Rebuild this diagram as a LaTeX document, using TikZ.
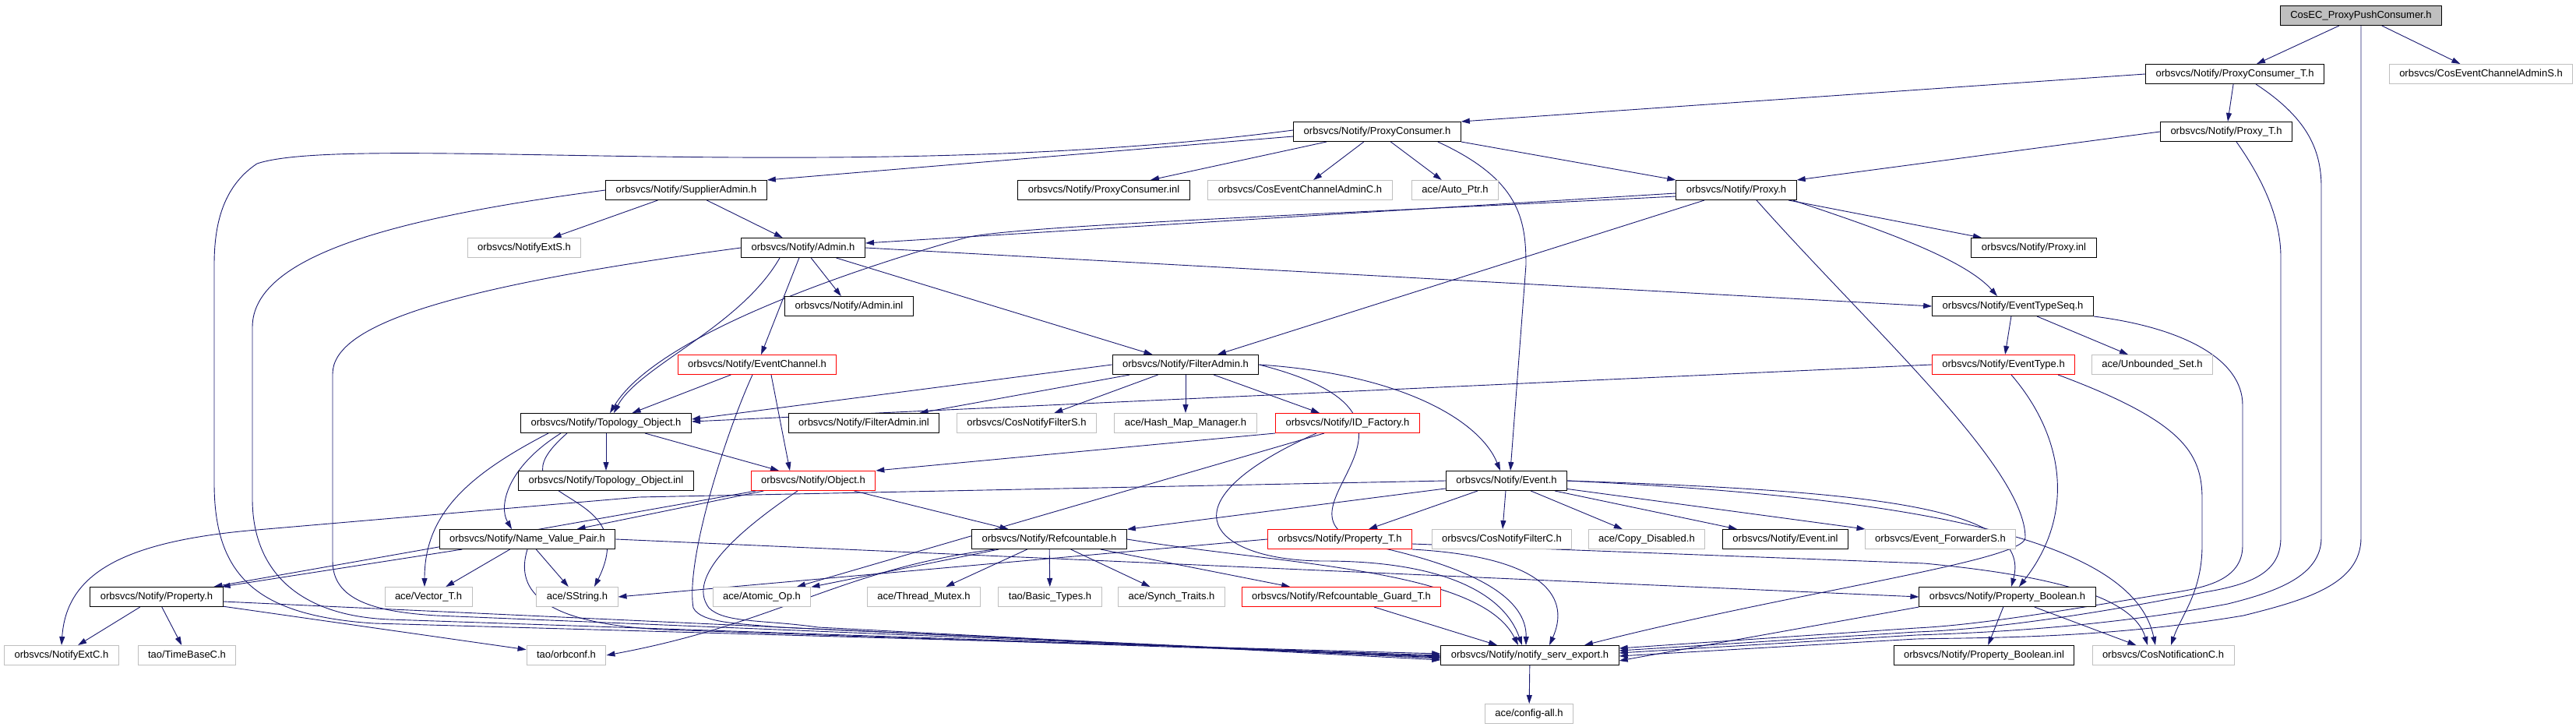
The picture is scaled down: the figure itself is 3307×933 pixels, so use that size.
\documentclass[tikz,border=0pt]{standalone}
\usepackage{fontspec}
\newfontfamily\graphfont{Liberation Sans}
\usetikzlibrary{arrows.meta}
\pgfdeclarelayer{background}
\pgfsetlayers{background,main}
\definecolor{edgeblue}{HTML}{191970}
\definecolor{boxgray}{HTML}{BFBFBF}
\tikzset{
 incfile/.style={draw=black, line width=1pt, fill=white, inner xsep=13pt, inner ysep=0pt,
   minimum height=25pt, text height=9.5pt, text depth=3pt, font=\graphfont\fontsize{13}{15}\selectfont},
 hdr/.style={incfile, fill=boxgray},
 sysfile/.style={incfile, draw=boxgray},
 cutfile/.style={incfile, draw=red},
 inc/.style={draw=edgeblue, line width=0.9pt, -{Triangle[length=11pt,width=7pt]}}
}

\begin{document}
\begin{tikzpicture} [x=1pt, y=-1pt]
 \useasboundingbox (0,0) rectangle (3307,933);
 % files, row by row
 \node[hdr] (pp) at (3031,20) {CosEC\_ProxyPushConsumer.h};
 \node[incfile] (pct) at (2869,95) {orbsvcs/Notify/ProxyConsumer\_T.h};
 \node[sysfile] (ceas) at (3185,95) {orbsvcs/CosEventChannelAdminS.h};
 \node[incfile] (pc) at (1768,169) {orbsvcs/Notify/ProxyConsumer.h};
 \node[incfile] (pt) at (2858,169) {orbsvcs/Notify/Proxy\_T.h};
 \node[incfile] (sa) at (881,244) {orbsvcs/Notify/SupplierAdmin.h};
 \node[incfile] (pci) at (1417,244) {orbsvcs/Notify/ProxyConsumer.inl};
 \node[sysfile] (ceac) at (1669,244) {orbsvcs/CosEventChannelAdminC.h};
 \node[sysfile] (ap) at (1868,244) {ace/Auto\_Ptr.h};
 \node[incfile] (px) at (2229,244) {orbsvcs/Notify/Proxy.h};
 \node[sysfile] (nes) at (673,318) {orbsvcs/NotifyExtS.h};
 \node[incfile] (adm) at (1031,318) {orbsvcs/Notify/Admin.h};
 \node[incfile] (pxi) at (2611,318) {orbsvcs/Notify/Proxy.inl};
 \node[incfile] (adi) at (1090,393) {orbsvcs/Notify/Admin.inl};
 \node[incfile] (ets) at (2584,393) {orbsvcs/Notify/EventTypeSeq.h};
 \node[cutfile] (ech) at (972,468) {orbsvcs/Notify/EventChannel.h};
 \node[incfile] (fa) at (1522,468) {orbsvcs/Notify/FilterAdmin.h};
 \node[cutfile] (et) at (2572,468) {orbsvcs/Notify/EventType.h};
 \node[sysfile] (ubs) at (2763,468) {ace/Unbounded\_Set.h};
 \node[incfile] (topo) at (778,543) {orbsvcs/Notify/Topology\_Object.h};
 \node[incfile] (fai) at (1109,543) {orbsvcs/Notify/FilterAdmin.inl};
 \node[sysfile] (cnfs) at (1318,543) {orbsvcs/CosNotifyFilterS.h};
 \node[sysfile] (hmm) at (1522,543) {ace/Hash\_Map\_Manager.h};
 \node[cutfile] (idf) at (1730,543) {orbsvcs/Notify/ID\_Factory.h};
 \node[incfile] (toi) at (778,617) {orbsvcs/Notify/Topology\_Object.inl};
 \node[cutfile] (obj) at (1044,617) {orbsvcs/Notify/Object.h};
 \node[incfile] (ev) at (1934,617) {orbsvcs/Notify/Event.h};
 \node[incfile] (nvp) at (677,692) {orbsvcs/Notify/Name\_Value\_Pair.h};
 \node[incfile] (rc) at (1347,692) {orbsvcs/Notify/Refcountable.h};
 \node[cutfile] (propt) at (1720,692) {orbsvcs/Notify/Property\_T.h};
 \node[sysfile] (cnfc) at (1928,692) {orbsvcs/CosNotifyFilterC.h};
 \node[sysfile] (cd) at (2114,692) {ace/Copy\_Disabled.h};
 \node[incfile] (evi) at (2292,692) {orbsvcs/Notify/Event.inl};
 \node[sysfile] (efs) at (2491,692) {orbsvcs/Event\_ForwarderS.h};
 \node[incfile] (prop) at (201,766) {orbsvcs/Notify/Property.h};
 \node[sysfile] (vec) at (550,766) {ace/Vector\_T.h};
 \node[sysfile] (ss) at (741,766) {ace/SString.h};
 \node[sysfile] (ao) at (978,766) {ace/Atomic\_Op.h};
 \node[sysfile] (tm) at (1186,766) {ace/Thread\_Mutex.h};
 \node[sysfile] (bt) at (1348,766) {tao/Basic\_Types.h};
 \node[sysfile] (st) at (1504,766) {ace/Synch\_Traits.h};
 \node[cutfile] (rg) at (1722,766) {orbsvcs/Notify/Refcountable\_Guard\_T.h};
 \node[incfile] (pbool) at (2577,766) {orbsvcs/Notify/Property\_Boolean.h};
 \node[sysfile] (nec) at (79,841) {orbsvcs/NotifyExtC.h};
 \node[sysfile] (tbc) at (240,841) {tao/TimeBaseC.h};
 \node[sysfile] (orbc) at (727,841) {tao/orbconf.h};
 \node[incfile] (nse) at (1964,841) {orbsvcs/Notify/notify\_serv\_export.h};
 \node[incfile] (pbi) at (2547,841) {orbsvcs/Notify/Property\_Boolean.inl};
 \node[sysfile] (cnc) at (2777,841) {orbsvcs/CosNotificationC.h};
 \node[sysfile] (cfg) at (1963,916) {ace/config-all.h};
 % includes
 \begin{pgfonlayer}{background}
 \draw[inc] (pp) -- (pct);
 \draw[inc] (pp) -- (ceas);
 \draw[inc] (pp.south) -- (3031,690) .. controls (3031,750) and (2960,770) .. (2880,790) .. controls (2700,820) and (2550,818) .. (2460,820) -- ([yshift=-1pt]nse.east);
 \draw[inc] (pct.west) -- (pc.north east);
 \draw[inc] (pct) -- (pt);
 \draw[inc] ([xshift=27pt]pct.south) .. controls (2960,150) and (2980,190) .. (2980,240) -- (2980,690) .. controls (2980,740) and (2920,760) .. (2860,775) .. controls (2700,805) and (2550,812) .. (2460,815) -- ([yshift=3pt]nse.east);
 \draw[inc] (pt.west) -- (px.north east);
 \draw[inc] ([xshift=13pt]pt.south) .. controls (2905,230) and (2928,280) .. (2928,330) -- (2928,690) .. controls (2928,735) and (2890,750) .. (2830,760) .. controls (2680,790) and (2550,808) .. (2460,811) -- ([yshift=6pt]nse.east);
 \draw[inc] ([yshift=-6pt]pc.west) -- (sa.north east);
 \draw[inc] ([yshift=2pt]pc.west) .. controls (1100,240) and (450,170) .. (330,210) .. controls (285,240) and (275,290) .. (275,340) -- (275,620) .. controls (275,740) and (330,790) .. (480,800) -- ([yshift=2pt]nse.west);
 \draw[inc] ([xshift=-65pt]pc.south) -- ([xshift=60pt]pci.north);
 \draw[inc] (pc) -- (ceac);
 \draw[inc] (pc) -- (ap);
 \draw[inc] (pc.south east) -- (px.north west);
 \draw[inc] ([xshift=-30pt]pc.south east) .. controls (1950,230) and (1959,280) .. (1959,340) -- ([xshift=5pt]ev.north);
 \draw[inc] (sa) -- (nes);
 \draw[inc] (sa) -- (adm);
 \draw[inc] (sa.west) .. controls (500,280) and (324,330) .. (324,420) -- (324,640) .. controls (324,730) and (380,790) .. (500,795) -- (nse.west);
 \draw[inc] ([yshift=-4pt]px.west) -- ([yshift=6pt]adm.east);
 \draw[inc] ([yshift=-8pt]px.west) .. controls (1700,275) and (1300,290) .. (1240,305) .. controls (1150,330) and (850,420) .. ([xshift=5pt]topo.north);
 \draw[inc] (px) -- (fa);
 \draw[inc] (px) -- (pxi);
 \draw[inc] ([xshift=-5pt]px.south east) .. controls (2400,290) and (2520,330) .. ([xshift=-20pt]ets.north);
 \draw[inc] ([xshift=26pt]px.south) .. controls (2400,420) and (2600,600) .. (2600,690) .. controls (2600,720) and (2300,760) .. ([xshift=70pt]nse.north);
 \draw[inc] (adm) -- (adi);
 \draw[inc] (adm) -- (ech);
 \draw[inc] (adm) -- (fa);
 \draw[inc] (adm.east) -- (ets.west);
 \draw[inc] ([xshift=-30pt]adm.south) .. controls (950,420) and (820,470) .. ([xshift=10pt]topo.north);
 \draw[inc] (adm.west) .. controls (560,370) and (427,420) .. (427,480) -- (427,720) .. controls (427,770) and (480,785) .. (560,790) -- ([yshift=-2pt]nse.west);
 \draw[inc] (ets) -- (et);
 \draw[inc] (ets) -- (ubs);
 \draw[inc] (ets.south east) .. controls (2800,420) and (2879,460) .. (2879,520) -- (2879,700) .. controls (2879,745) and (2830,755) .. (2780,762) .. controls (2640,785) and (2540,802) .. (2460,806) -- ([yshift=9pt]nse.east);
 \draw[inc] (ech) -- (topo);
 \draw[inc] ([xshift=18pt]ech.south) -- ([xshift=-30pt]obj.north);
 \draw[inc] ([xshift=-6pt]ech.south) .. controls (930,560) and (880,720) .. (890,780) .. controls (900,800) and (950,800) .. (1000,805) -- ([yshift=-4pt]nse.west);
 \draw[inc] (fa.west) -- ([yshift=5pt]topo.east);
 \draw[inc] (fa) -- (fai);
 \draw[inc] (fa) -- (cnfs);
 \draw[inc] (fa) -- (hmm);
 \draw[inc] (fa) -- (idf);
 \draw[inc] (fa.east) .. controls (1800,480) and (1900,540) .. ([xshift=-8pt]ev.north);
 \draw[inc] (fa.east) .. controls (1900,540) and (1600,660) .. (1760,700) .. controls (1900,730) and (1960,770) .. ([xshift=-5pt]nse.north);
 \draw[inc] (et.west) -- ([yshift=2pt]topo.east);
 \draw[inc] ([xshift=70pt]et.south) .. controls (2800,540) and (2827,580) .. (2827,640) -- (2827,700) .. controls (2827,760) and (2800,790) .. ([xshift=10pt]cnc.north);
 \draw[inc] ([xshift=10pt]et.south) .. controls (2650,560) and (2665,660) .. ([xshift=15pt]pbool.north);
 \draw[inc] (topo) -- (toi);
 \draw[inc] ([xshift=50pt]topo.south) -- ([xshift=-44pt]obj.north);
 \draw[inc] ([xshift=-58pt]topo.south) .. controls (650,600) and (640,650) .. ([xshift=-20pt]nvp.north);
 \draw[inc] ([xshift=-74pt]topo.south) .. controls (600,610) and (545,660) .. ([xshift=-5pt]vec.north);
 \draw[inc] ([xshift=-50pt]topo.south) .. controls (620,650) and (830,620) .. ([xshift=22pt]ss.north);
 \draw[inc] (idf.south west) -- (obj.north east);
 \draw[inc] ([xshift=-30pt]idf.south) -- ([xshift=45pt]ao.north);
 \draw[inc] ([xshift=-40pt]idf.south) .. controls (1480,650) and (1560,720) .. (1700,720) .. controls (1850,720) and (1930,760) .. ([xshift=-10pt]nse.north);
 \draw[inc] (obj) -- (rc);
 \draw[inc] (obj) -- (nvp);
 \draw[inc] (obj) -- (prop);
 \draw[inc] ([xshift=-20pt]obj.south) .. controls (950,680) and (880,740) .. (910,780) .. controls (930,800) and (980,795) .. (1050,805) -- ([yshift=-6pt]nse.west);
 \draw[inc] (ev) -- (rc);
 \draw[inc] (ev) -- (propt);
 \draw[inc] (ev) -- (cnfc);
 \draw[inc] (ev) -- (cd);
 \draw[inc] (ev) -- (evi);
 \draw[inc] (ev) -- (efs);
 \draw[inc] (ev.west) -- (820,638) -- (330,680) .. controls (150,695) and (85,740) .. (nec.north);
 \draw[inc] (ev.east) .. controls (2400,630) and (2610,650) .. ([xshift=5pt]pbool.north);
 \draw[inc] (ev.east) .. controls (2500,640) and (2740,700) .. ([xshift=-10pt]cnc.north);
 \draw[inc] (nvp) -- (prop);
 \draw[inc] (nvp) -- (vec);
 \draw[inc] (nvp) -- (ss);
 \draw[inc] (nvp.east) -- (pbool.west);
 \draw[inc] (nvp.south) .. controls (660,760) and (700,800) .. (850,808) -- ([yshift=-1pt]nse.west);
 \draw[inc] (rc) -- (ao);
 \draw[inc] (rc) -- (tm);
 \draw[inc] (rc) -- (bt);
 \draw[inc] (rc) -- (st);
 \draw[inc] (rc) -- (rg);
 \draw[inc] ([xshift=-70pt]rc.south) .. controls (1080,730) and (1000,800) .. (orbc.east);
 \draw[inc] (rc.east) .. controls (1650,725) and (1900,730) .. ([xshift=-15pt]nse.north);
 \draw[inc] (propt.west) -- (ss.east);
 \draw[inc] (propt.south east) .. controls (1990,715) and (2015,770) .. ([xshift=25pt]nse.north);
 \draw[inc] ([yshift=-6pt]propt.east) -- (2470,723) .. controls (2650,740) and (2740,770) .. ([xshift=-20pt]cnc.north);
 \draw[inc] (prop) -- (nec);
 \draw[inc] (prop) -- (tbc);
 \draw[inc] (prop) -- (orbc);
 \draw[inc] ([yshift=-6pt]prop.east) -- ([yshift=-3pt]nse.west);
 \draw[inc] (rg) -- (nse);
 \draw[inc] (pbool) -- (pbi);
 \draw[inc] (pbool) -- (cnc);
 \draw[inc] (pbool.south west) -- ([yshift=-7pt]nse.east);
 \draw[inc] (nse) -- (cfg);
 \end{pgfonlayer}
\end{tikzpicture}
\end{document}
